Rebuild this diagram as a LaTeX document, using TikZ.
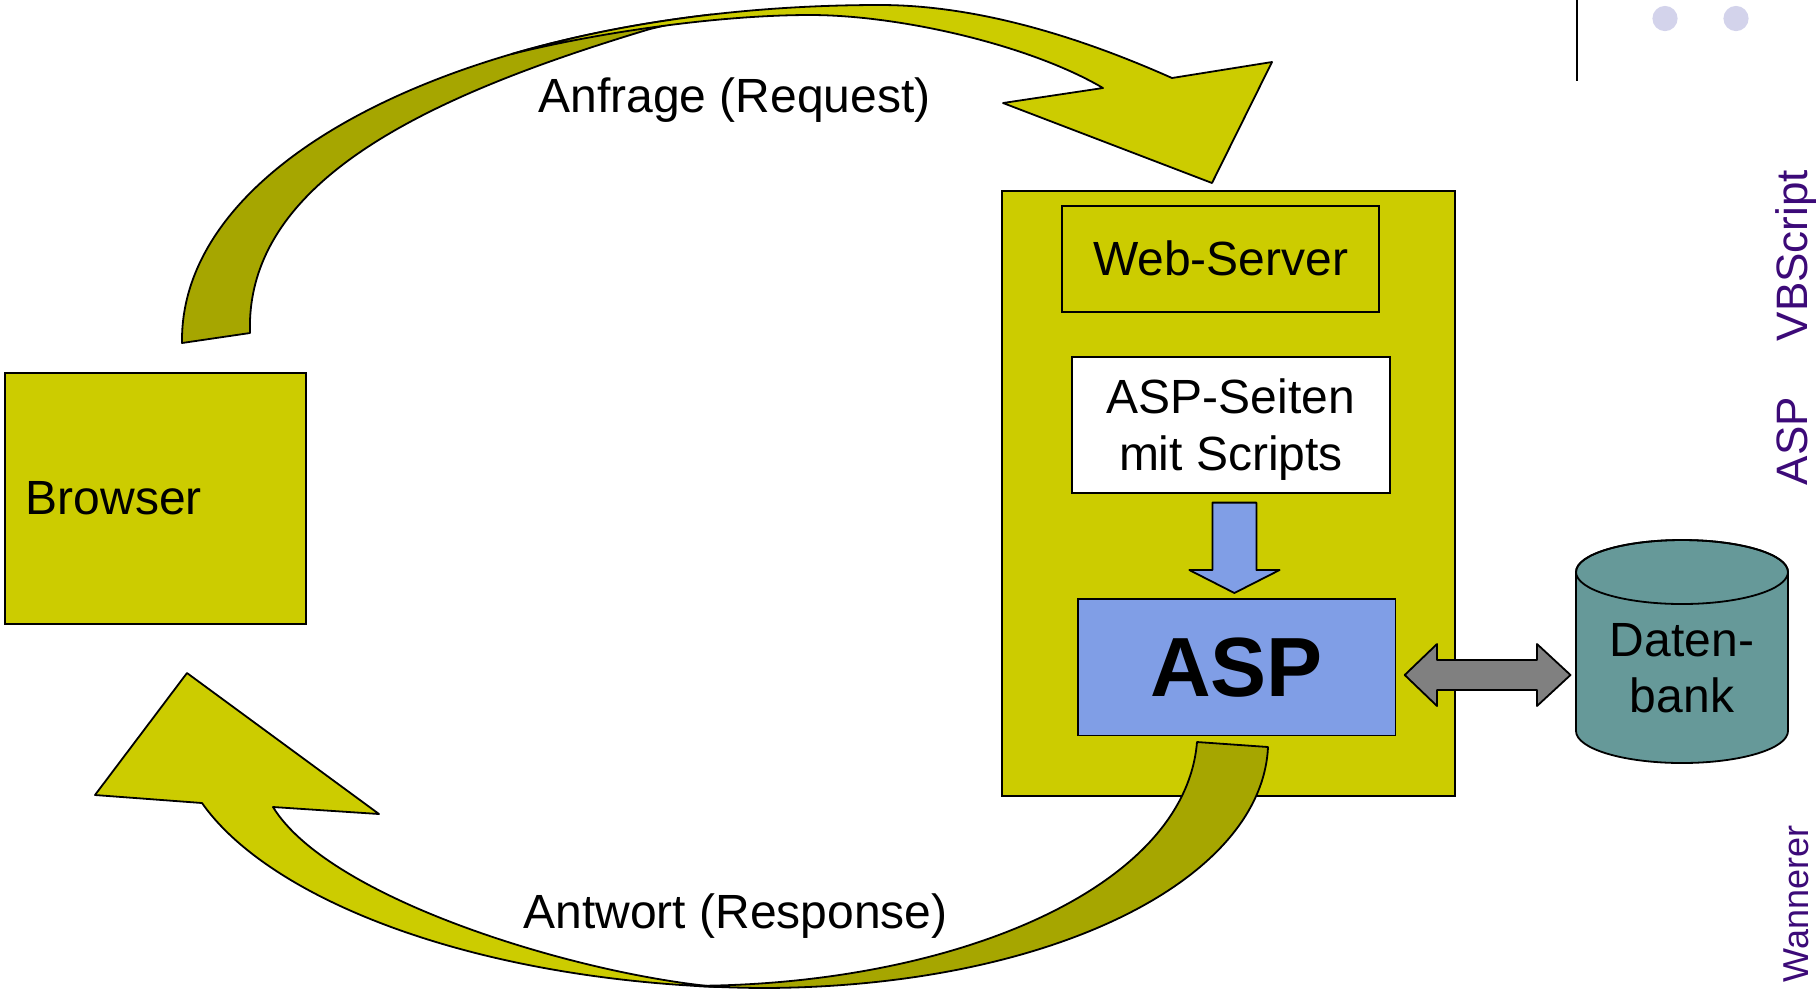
\documentclass[tikz,border=0pt]{standalone}
\usepackage{fontspec}
\setmainfont{Liberation Sans}
\definecolor{ppyellow}{RGB}{204,204,0}
\definecolor{ppdark}{RGB}{166,166,0}
\definecolor{aspblue}{RGB}{128,158,230}
\definecolor{dbteal}{RGB}{102,153,153}
\definecolor{arrowgray}{RGB}{128,128,128}
\definecolor{dotcol}{RGB}{211,211,235}
\definecolor{purp}{RGB}{60,10,120}
\tikzset{
  box/.style={draw=black, line width=0.9pt, inner sep=0pt, align=center,
    font=\fontsize{24}{28.8}\selectfont},
  lbl/.style={inner sep=0pt, align=center, font=\fontsize{24}{28.8}\selectfont},
  shapeline/.style={draw=black, line width=0.9pt, line join=round},
  sidetext/.style={inner sep=0pt, rotate=90, anchor=base, text=purp},
}
\begin{document}
\begin{tikzpicture}[x=0.5pt,y=-0.5pt]
\useasboundingbox (0,0) rectangle (1816,993);

% decoration top right
\draw[line width=1pt] (1577,0) -- (1577,81);
\fill[dotcol] (1665,18.5) circle[radius=6.3pt];
\fill[dotcol] (1736,18.5) circle[radius=6.3pt];

% side texts
\node[sidetext, font=\fontsize{22}{26}\selectfont] (sideasp) at (1807,327.5) {ASP\hspace{28pt}VBScript};
\node[sidetext, font=\fontsize{18}{22}\selectfont] (sidename) at (1808,904) {Wannerer};

% browser
\node[box, fill=ppyellow, minimum width=150.5pt, minimum height=125.7pt,
      text width=129.5pt, inner xsep=10.5pt, align=left] (browser) at (155.2,498.6) {Browser};

% server
\node[box, fill=ppyellow, minimum width=226.5pt, minimum height=302.7pt] (server) at (1228.2,493.4) {};
\node[box, fill=ppyellow, minimum width=158.4pt, minimum height=52.8pt] (web) at (1220.7,258.8) {Web-Server};
\node[box, fill=white, minimum width=158.7pt, minimum height=68.3pt] (seiten) at (1231,425) {};
\node[lbl] (seitentext) at (1231,429.5) {ASP-Seiten\\mit Scripts};
\node[box, fill=aspblue, minimum width=158.9pt, minimum height=68.4pt,
      font=\fontsize{42}{50}\selectfont\bfseries] (asp) at (1236.6,667.1) {ASP};

% blue down arrow
\filldraw[aspblue, shapeline] (1212.4,502.6) -- (1256.4,502.6) -- (1256.4,570) -- (1279.6,570)
  -- (1234.4,593) -- (1189.3,570) -- (1212.4,570) -- cycle;

% database cylinder
\filldraw[dbteal, shapeline] (1576,731) arc[start angle=180, end angle=360, x radius=53pt, y radius=16pt]
  -- (1788,572) arc[start angle=0, end angle=180, x radius=53pt, y radius=16pt] -- cycle;
\draw[line width=0.9pt] (1682,572) ellipse[x radius=53pt, y radius=16pt];
\node[lbl, font=\fontsize{24}{28}\selectfont] (db) at (1682,668) {Daten-\\bank};

% gray double arrow
\filldraw[arrowgray, shapeline] (1404.7,675) -- (1437,644) -- (1437,660) -- (1537,660) -- (1537,644)
  -- (1570.5,675) -- (1537,706) -- (1537,690) -- (1437,690) -- (1437,706) -- cycle;

% top curved arrow (request): dark back part
\filldraw[ppdark, shapeline]
  (182,343) .. controls (179.45,178.95) and (406.65,49.55) .. (711.85,14.45)
  -- (650,29) .. controls (430,95) and (245,180) .. (250,333) -- cycle;
% top curved arrow: lit part with head
\filldraw[ppyellow, shapeline]
  (511.25,54.13) .. controls (618.45,22.76) and (744.9,5) .. (880,5)
  .. controls (990,5) and (1100,46) .. (1172,78)
  -- (1272,62) -- (1212,183) -- (1003,103) -- (1103,88)
  .. controls (1030,45) and (900,15) .. (810,15)
  .. controls (720,15) and (600,32) .. (511.25,54.13) -- cycle;

% bottom curved arrow (response): dark back part
\filldraw[ppdark, shapeline]
  (694.2,985.8) .. controls (715.6,987) and (737.6,987.76) .. (760,988)
  .. controls (1050,988) and (1262,880) .. (1268,747)
  -- (1197,742) .. controls (1185,890) and (950,985) .. (694.2,985.8) -- cycle;
% bottom curved arrow: lit part with head
\filldraw[ppyellow, shapeline]
  (273,807) -- (379,814) -- (187,673) -- (95,795) -- (202,803)
  .. controls (266.6,895.15) and (459.4,976.45) .. (718.8,987.05)
  .. controls (580,975) and (330,900) .. (273,807) -- cycle;

% labels
\node[lbl, anchor=base west] (reqlabel) at (538,112) {Anfrage (Request)};
\node[lbl, anchor=base west] (reslabel) at (523,928) {Antwort (Response)};
\end{tikzpicture}
\end{document}
